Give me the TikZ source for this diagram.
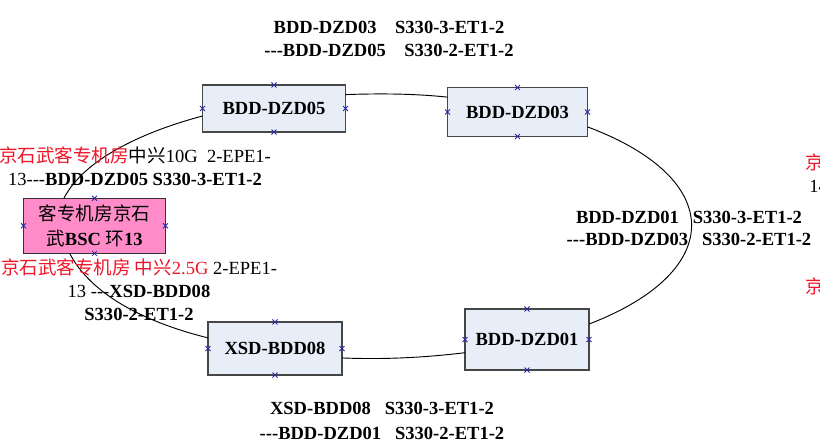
\documentclass[tikz,border=0pt]{standalone}
\usepackage{fontspec}
\setmainfont{Liberation Serif}
\newfontfamily\cjk{Noto Sans CJK SC}
\usetikzlibrary{backgrounds}
\newcommand{\tridash}{-{}-{}-}
\definecolor{boxfill}{RGB}{232,238,248}
\definecolor{boxline}{RGB}{70,70,70}
\definecolor{bscfill}{RGB}{255,140,200}
\definecolor{portred}{RGB}{240,20,40}
\definecolor{conblue}{RGB}{40,40,170}

\begin{document}
\begin{tikzpicture}[x=0.75pt, y=-0.75pt]
            \tikzstyle{station} = [draw=boxline, line width=1.1pt, fill=boxfill, outer sep=0pt, inner sep=0pt, font=\fontsize{13.9}{17}\selectfont\bfseries]
            \tikzstyle{ring} = [black, line width=0.7pt]
            \tikzstyle{portlabel} = [align=center, inner sep=0pt, font=\fontsize{13.9}{17.25}\selectfont]
            \tikzstyle{conpt} = [conblue, line width=0.6pt]
            \useasboundingbox (0, 0) rectangle (820, 444);
            \clip (0, 0) rectangle (820, 444);
            \node[station, minimum width=107.3pt, minimum height=35.3pt] (dzd05) at (274, 108.5) {BDD-DZD05};
            \node[station, minimum width=105pt, minimum height=36.8pt] (dzd03) at (517.5, 112) {BDD-DZD03};
            \node[station, minimum width=93pt, minimum height=45.8pt] (dzd01) at (527, 339.5) {BDD-DZD01};
            \node[station, minimum width=100.5pt, minimum height=39.8pt] (bdd08) at (275, 348.5) {XSD-BDD08};
            \node[station, draw=black!80, line width=0.8pt, fill=bscfill, minimum width=106.5pt, minimum height=41.3pt, align=center, font=\fontsize{13.9}{19.2}\selectfont] (bsc) at (94.5, 225.8) {{\cjk 客专机房京石}\\{\cjk 武}\textbf{BSC} {\cjk 环}\textbf{13}};
            \draw[ring] (dzd05.11.5) to[out=2, in=174, looseness=0.85] (dzd03.168.7);
            \draw[ring] (dzd03.-12.9) to[out=-20.5, in=21, out distance=111pt, in distance=110pt] (dzd01.14.9);
            \draw[ring] (dzd01.192.3) to[out=187, in=-2.4, looseness=0.85] (bdd08.-8.1);
            \draw[ring] (bdd08.171.1) to[out=166, in=-63, out distance=57.4pt, in distance=29.8pt] (bsc.228.3);
            \draw[ring] (bsc.138.9) to[out=63, in=195, out distance=28.9pt, in distance=55pt] (dzd05.186.8);
            \foreach \n in {dzd05, dzd03, dzd01, bdd08, bsc}
                \foreach \a in {north, south, east, west}
                    \draw[conpt] (\n.\a) +(-2.5, -2.5) -- +(2.5, 2.5) +(-2.5, 2.5) -- +(2.5, -2.5);
            \node[portlabel, font=\fontsize{13.9}{17.25}\selectfont\bfseries] (lbltop) at (389, 39) {BDD-DZD03\ \ \ \ S330-3-ET1-2\\\tridash BDD-DZD05\ \ \ \ S330-2-ET1-2};
            \node[portlabel, font=\fontsize{13.9}{16.5}\selectfont\bfseries] (lblright) at (689, 228) {BDD-DZD01\ \ \ S330-3-ET1-2\\\tridash BDD-DZD03\ \ \ S330-2-ET1-2};
            \node[portlabel, font=\fontsize{13.9}{18.75}\selectfont\bfseries] (lblbottom) at (382, 420.5) {XSD-BDD08\ \ \ S330-3-ET1-2\\\tridash BDD-DZD01\ \ \ S330-2-ET1-2};
            \node[portlabel] (lblbscup) at (135, 166.5) {\textcolor{portred}{\cjk 京石武客专机房}{\cjk 中兴}10G\ \ 2-EPE1-\\13\tridash\textbf{BDD-DZD05 S330-3-ET1-2}};
            \node[portlabel] (lblbscdown) at (139, 289.3) {{\color{portred}\cjk 京石武客专机房 中兴}\textcolor{portred}{2.5G} 2-EPE1-\\13 \tridash\textbf{XSD-BDD08}\\\textbf{S330-2-ET1-2}};
            \node[portlabel, anchor=west, text=portred] (cutnorth) at (805, 162.7) {\cjk 京};
            \node[portlabel, anchor=west] (cutmid) at (809, 186.7) {14};
            \node[portlabel, anchor=west, text=portred] (cutsouth) at (805, 286.7) {\cjk 京};
        \end{tikzpicture}
\end{document}
